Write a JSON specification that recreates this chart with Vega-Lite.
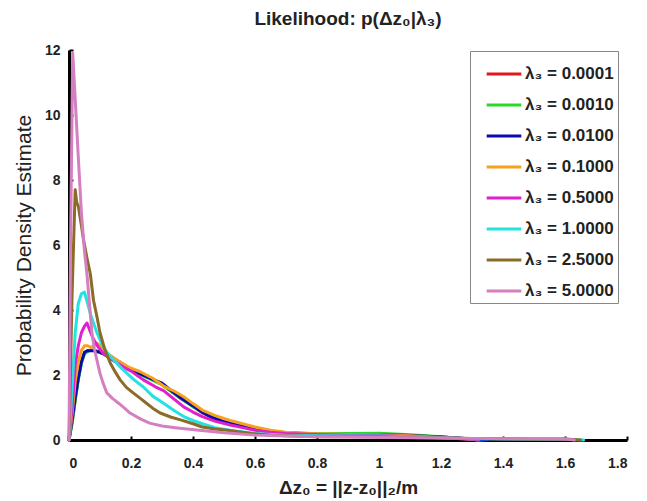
{
  "$schema": "https://vega.github.io/schema/vega-lite/v6.json",
  "width": 558,
  "height": 390,
  "autosize": {"type": "none"},
  "padding": {"left": 69, "top": 50, "right": 20, "bottom": 61},
  "background": "white",
  "title": {"text": "Likelihood: p(Δz₀|λ₃)", "font": "Liberation Sans", "fontSize": 19, "fontWeight": "bold", "color": "#222", "offset": 14, "anchor": "middle"},
  "config": {
    "view": {"stroke": null},
    "axis": {"grid": false, "domainColor": "black", "tickColor": "black", "labelFont": "Liberation Sans", "labelFontWeight": "bold", "labelFontSize": 14, "labelColor": "#222", "titleFont": "Liberation Sans", "titleColor": "#222"}
  },
  "data": {"values": [
    {"lam":"0.0001","x":0,"y":0},{"lam":"0.0001","x":0.01,"y":0.55},{"lam":"0.0001","x":0.02,"y":1.25},{"lam":"0.0001","x":0.03,"y":1.9},{"lam":"0.0001","x":0.04,"y":2.4},{"lam":"0.0001","x":0.05,"y":2.68},{"lam":"0.0001","x":0.06,"y":2.75},{"lam":"0.0001","x":0.08,"y":2.76},{"lam":"0.0001","x":0.1,"y":2.7},{"lam":"0.0001","x":0.12,"y":2.6},{"lam":"0.0001","x":0.14,"y":2.5},{"lam":"0.0001","x":0.16,"y":2.4},{"lam":"0.0001","x":0.18,"y":2.28},{"lam":"0.0001","x":0.2,"y":2.16},{"lam":"0.0001","x":0.22,"y":2.06},{"lam":"0.0001","x":0.25,"y":1.94},{"lam":"0.0001","x":0.28,"y":1.82},{"lam":"0.0001","x":0.3,"y":1.72},{"lam":"0.0001","x":0.33,"y":1.5},{"lam":"0.0001","x":0.36,"y":1.28},{"lam":"0.0001","x":0.4,"y":1.04},{"lam":"0.0001","x":0.43,"y":0.84},{"lam":"0.0001","x":0.46,"y":0.7},{"lam":"0.0001","x":0.5,"y":0.56},{"lam":"0.0001","x":0.55,"y":0.44},{"lam":"0.0001","x":0.6,"y":0.34},{"lam":"0.0001","x":0.65,"y":0.27},{"lam":"0.0001","x":0.7,"y":0.22},{"lam":"0.0001","x":0.8,"y":0.18},{"lam":"0.0001","x":0.9,"y":0.18},{"lam":"0.0001","x":1.0,"y":0.18},{"lam":"0.0001","x":1.1,"y":0.14},{"lam":"0.0001","x":1.2,"y":0.09},{"lam":"0.0001","x":1.3,"y":0.03},{"lam":"0.0001","x":1.34,"y":0},
    {"lam":"0.0010","x":0,"y":0},{"lam":"0.0010","x":0.01,"y":0.5},{"lam":"0.0010","x":0.02,"y":1.2},{"lam":"0.0010","x":0.03,"y":1.85},{"lam":"0.0010","x":0.04,"y":2.35},{"lam":"0.0010","x":0.05,"y":2.65},{"lam":"0.0010","x":0.07,"y":2.78},{"lam":"0.0010","x":0.09,"y":2.72},{"lam":"0.0010","x":0.11,"y":2.65},{"lam":"0.0010","x":0.13,"y":2.55},{"lam":"0.0010","x":0.16,"y":2.4},{"lam":"0.0010","x":0.2,"y":2.15},{"lam":"0.0010","x":0.25,"y":1.93},{"lam":"0.0010","x":0.3,"y":1.7},{"lam":"0.0010","x":0.35,"y":1.35},{"lam":"0.0010","x":0.4,"y":1.02},{"lam":"0.0010","x":0.45,"y":0.75},{"lam":"0.0010","x":0.5,"y":0.55},{"lam":"0.0010","x":0.6,"y":0.33},{"lam":"0.0010","x":0.7,"y":0.22},{"lam":"0.0010","x":0.8,"y":0.19},{"lam":"0.0010","x":0.9,"y":0.2},{"lam":"0.0010","x":1.0,"y":0.21},{"lam":"0.0010","x":1.1,"y":0.16},{"lam":"0.0010","x":1.2,"y":0.1},{"lam":"0.0010","x":1.3,"y":0.03},{"lam":"0.0010","x":1.33,"y":0},
    {"lam":"0.0100","x":0,"y":0},{"lam":"0.0100","x":0.01,"y":0.6},{"lam":"0.0100","x":0.02,"y":1.3},{"lam":"0.0100","x":0.03,"y":1.9},{"lam":"0.0100","x":0.04,"y":2.4},{"lam":"0.0100","x":0.05,"y":2.7},{"lam":"0.0100","x":0.06,"y":2.75},{"lam":"0.0100","x":0.08,"y":2.75},{"lam":"0.0100","x":0.1,"y":2.7},{"lam":"0.0100","x":0.12,"y":2.62},{"lam":"0.0100","x":0.14,"y":2.52},{"lam":"0.0100","x":0.16,"y":2.42},{"lam":"0.0100","x":0.18,"y":2.3},{"lam":"0.0100","x":0.2,"y":2.18},{"lam":"0.0100","x":0.22,"y":2.08},{"lam":"0.0100","x":0.25,"y":1.95},{"lam":"0.0100","x":0.28,"y":1.83},{"lam":"0.0100","x":0.3,"y":1.75},{"lam":"0.0100","x":0.33,"y":1.52},{"lam":"0.0100","x":0.36,"y":1.3},{"lam":"0.0100","x":0.4,"y":1.05},{"lam":"0.0100","x":0.43,"y":0.85},{"lam":"0.0100","x":0.46,"y":0.7},{"lam":"0.0100","x":0.5,"y":0.56},{"lam":"0.0100","x":0.55,"y":0.45},{"lam":"0.0100","x":0.6,"y":0.35},{"lam":"0.0100","x":0.65,"y":0.27},{"lam":"0.0100","x":0.7,"y":0.22},{"lam":"0.0100","x":0.8,"y":0.18},{"lam":"0.0100","x":0.9,"y":0.17},{"lam":"0.0100","x":1.0,"y":0.17},{"lam":"0.0100","x":1.1,"y":0.14},{"lam":"0.0100","x":1.2,"y":0.09},{"lam":"0.0100","x":1.3,"y":0.03},{"lam":"0.0100","x":1.35,"y":0},
    {"lam":"0.1000","x":0,"y":0},{"lam":"0.1000","x":0.01,"y":0.8},{"lam":"0.1000","x":0.02,"y":1.8},{"lam":"0.1000","x":0.03,"y":2.4},{"lam":"0.1000","x":0.04,"y":2.75},{"lam":"0.1000","x":0.05,"y":2.9},{"lam":"0.1000","x":0.06,"y":2.9},{"lam":"0.1000","x":0.07,"y":2.85},{"lam":"0.1000","x":0.08,"y":2.9},{"lam":"0.1000","x":0.09,"y":2.98},{"lam":"0.1000","x":0.1,"y":2.9},{"lam":"0.1000","x":0.11,"y":2.77},{"lam":"0.1000","x":0.13,"y":2.62},{"lam":"0.1000","x":0.155,"y":2.46},{"lam":"0.1000","x":0.19,"y":2.25},{"lam":"0.1000","x":0.23,"y":2.1},{"lam":"0.1000","x":0.27,"y":1.9},{"lam":"0.1000","x":0.305,"y":1.66},{"lam":"0.1000","x":0.34,"y":1.5},{"lam":"0.1000","x":0.37,"y":1.33},{"lam":"0.1000","x":0.4,"y":1.12},{"lam":"0.1000","x":0.43,"y":0.92},{"lam":"0.1000","x":0.47,"y":0.76},{"lam":"0.1000","x":0.52,"y":0.6},{"lam":"0.1000","x":0.56,"y":0.5},{"lam":"0.1000","x":0.6,"y":0.4},{"lam":"0.1000","x":0.65,"y":0.3},{"lam":"0.1000","x":0.7,"y":0.24},{"lam":"0.1000","x":0.8,"y":0.19},{"lam":"0.1000","x":0.9,"y":0.17},{"lam":"0.1000","x":1.0,"y":0.16},{"lam":"0.1000","x":1.1,"y":0.13},{"lam":"0.1000","x":1.2,"y":0.08},{"lam":"0.1000","x":1.3,"y":0.02},{"lam":"0.1000","x":1.32,"y":0},
    {"lam":"0.5000","x":0,"y":0},{"lam":"0.5000","x":0.01,"y":1.0},{"lam":"0.5000","x":0.02,"y":2.3},{"lam":"0.5000","x":0.03,"y":2.9},{"lam":"0.5000","x":0.04,"y":3.3},{"lam":"0.5000","x":0.05,"y":3.5},{"lam":"0.5000","x":0.058,"y":3.6},{"lam":"0.5000","x":0.07,"y":3.3},{"lam":"0.5000","x":0.08,"y":3.08},{"lam":"0.5000","x":0.095,"y":2.85},{"lam":"0.5000","x":0.11,"y":2.67},{"lam":"0.5000","x":0.13,"y":2.52},{"lam":"0.5000","x":0.155,"y":2.37},{"lam":"0.5000","x":0.18,"y":2.22},{"lam":"0.5000","x":0.2,"y":2.12},{"lam":"0.5000","x":0.24,"y":1.85},{"lam":"0.5000","x":0.28,"y":1.63},{"lam":"0.5000","x":0.305,"y":1.52},{"lam":"0.5000","x":0.34,"y":1.25},{"lam":"0.5000","x":0.37,"y":1.02},{"lam":"0.5000","x":0.4,"y":0.86},{"lam":"0.5000","x":0.43,"y":0.72},{"lam":"0.5000","x":0.47,"y":0.58},{"lam":"0.5000","x":0.52,"y":0.46},{"lam":"0.5000","x":0.56,"y":0.38},{"lam":"0.5000","x":0.6,"y":0.3},{"lam":"0.5000","x":0.65,"y":0.24},{"lam":"0.5000","x":0.7,"y":0.2},{"lam":"0.5000","x":0.8,"y":0.17},{"lam":"0.5000","x":0.9,"y":0.15},{"lam":"0.5000","x":1.0,"y":0.14},{"lam":"0.5000","x":1.1,"y":0.11},{"lam":"0.5000","x":1.2,"y":0.07},{"lam":"0.5000","x":1.3,"y":0.02},{"lam":"0.5000","x":1.32,"y":0},
    {"lam":"1.0000","x":0,"y":0},{"lam":"1.0000","x":0.01,"y":1.6},{"lam":"1.0000","x":0.02,"y":3.3},{"lam":"1.0000","x":0.03,"y":4.2},{"lam":"1.0000","x":0.04,"y":4.5},{"lam":"1.0000","x":0.05,"y":4.55},{"lam":"1.0000","x":0.06,"y":4.2},{"lam":"1.0000","x":0.07,"y":3.85},{"lam":"1.0000","x":0.09,"y":3.3},{"lam":"1.0000","x":0.11,"y":2.87},{"lam":"1.0000","x":0.13,"y":2.6},{"lam":"1.0000","x":0.145,"y":2.46},{"lam":"1.0000","x":0.165,"y":2.25},{"lam":"1.0000","x":0.19,"y":2.03},{"lam":"1.0000","x":0.21,"y":1.85},{"lam":"1.0000","x":0.24,"y":1.63},{"lam":"1.0000","x":0.27,"y":1.35},{"lam":"1.0000","x":0.305,"y":1.13},{"lam":"1.0000","x":0.34,"y":0.9},{"lam":"1.0000","x":0.37,"y":0.72},{"lam":"1.0000","x":0.4,"y":0.6},{"lam":"1.0000","x":0.43,"y":0.5},{"lam":"1.0000","x":0.47,"y":0.38},{"lam":"1.0000","x":0.52,"y":0.3},{"lam":"1.0000","x":0.6,"y":0.2},{"lam":"1.0000","x":0.7,"y":0.15},{"lam":"1.0000","x":0.8,"y":0.13},{"lam":"1.0000","x":0.9,"y":0.12},{"lam":"1.0000","x":1.0,"y":0.12},{"lam":"1.0000","x":1.1,"y":0.1},{"lam":"1.0000","x":1.2,"y":0.07},{"lam":"1.0000","x":1.3,"y":0.04},{"lam":"1.0000","x":1.4,"y":0.03},{"lam":"1.0000","x":1.5,"y":0.02},{"lam":"1.0000","x":1.6,"y":0.02},{"lam":"1.0000","x":1.66,"y":0},
    {"lam":"2.5000","x":0,"y":0},{"lam":"2.5000","x":0.01,"y":4.5},{"lam":"2.5000","x":0.02,"y":7.7},{"lam":"2.5000","x":0.025,"y":7.3},{"lam":"2.5000","x":0.03,"y":7.2},{"lam":"2.5000","x":0.04,"y":6.6},{"lam":"2.5000","x":0.047,"y":6.15},{"lam":"2.5000","x":0.058,"y":5.6},{"lam":"2.5000","x":0.069,"y":5.1},{"lam":"2.5000","x":0.079,"y":4.3},{"lam":"2.5000","x":0.09,"y":3.8},{"lam":"2.5000","x":0.1,"y":3.3},{"lam":"2.5000","x":0.115,"y":2.8},{"lam":"2.5000","x":0.133,"y":2.37},{"lam":"2.5000","x":0.15,"y":2.08},{"lam":"2.5000","x":0.165,"y":1.85},{"lam":"2.5000","x":0.185,"y":1.62},{"lam":"2.5000","x":0.207,"y":1.45},{"lam":"2.5000","x":0.23,"y":1.28},{"lam":"2.5000","x":0.25,"y":1.13},{"lam":"2.5000","x":0.27,"y":0.98},{"lam":"2.5000","x":0.294,"y":0.83},{"lam":"2.5000","x":0.33,"y":0.7},{"lam":"2.5000","x":0.36,"y":0.62},{"lam":"2.5000","x":0.4,"y":0.5},{"lam":"2.5000","x":0.43,"y":0.4},{"lam":"2.5000","x":0.47,"y":0.34},{"lam":"2.5000","x":0.51,"y":0.3},{"lam":"2.5000","x":0.55,"y":0.25},{"lam":"2.5000","x":0.59,"y":0.2},{"lam":"2.5000","x":0.65,"y":0.15},{"lam":"2.5000","x":0.7,"y":0.13},{"lam":"2.5000","x":0.8,"y":0.1},{"lam":"2.5000","x":0.9,"y":0.1},{"lam":"2.5000","x":1.0,"y":0.1},{"lam":"2.5000","x":1.1,"y":0.08},{"lam":"2.5000","x":1.2,"y":0.06},{"lam":"2.5000","x":1.3,"y":0.05},{"lam":"2.5000","x":1.4,"y":0.04},{"lam":"2.5000","x":1.5,"y":0.03},{"lam":"2.5000","x":1.6,"y":0.03},{"lam":"2.5000","x":1.65,"y":0},
    {"lam":"5.0000","x":0,"y":0},{"lam":"5.0000","x":0.005,"y":6},{"lam":"5.0000","x":0.012,"y":11.9},{"lam":"5.0000","x":0.02,"y":10.5},{"lam":"5.0000","x":0.03,"y":8.7},{"lam":"5.0000","x":0.04,"y":7.0},{"lam":"5.0000","x":0.05,"y":5.8},{"lam":"5.0000","x":0.058,"y":5.1},{"lam":"5.0000","x":0.066,"y":4.2},{"lam":"5.0000","x":0.074,"y":3.3},{"lam":"5.0000","x":0.082,"y":2.8},{"lam":"5.0000","x":0.09,"y":2.46},{"lam":"5.0000","x":0.1,"y":2.05},{"lam":"5.0000","x":0.11,"y":1.75},{"lam":"5.0000","x":0.122,"y":1.45},{"lam":"5.0000","x":0.14,"y":1.28},{"lam":"5.0000","x":0.159,"y":1.14},{"lam":"5.0000","x":0.18,"y":0.97},{"lam":"5.0000","x":0.197,"y":0.83},{"lam":"5.0000","x":0.23,"y":0.65},{"lam":"5.0000","x":0.26,"y":0.52},{"lam":"5.0000","x":0.3,"y":0.43},{"lam":"5.0000","x":0.35,"y":0.37},{"lam":"5.0000","x":0.42,"y":0.3},{"lam":"5.0000","x":0.5,"y":0.22},{"lam":"5.0000","x":0.6,"y":0.15},{"lam":"5.0000","x":0.7,"y":0.12},{"lam":"5.0000","x":0.8,"y":0.1},{"lam":"5.0000","x":0.9,"y":0.09},{"lam":"5.0000","x":1.0,"y":0.08},{"lam":"5.0000","x":1.1,"y":0.07},{"lam":"5.0000","x":1.2,"y":0.06},{"lam":"5.0000","x":1.3,"y":0.05},{"lam":"5.0000","x":1.4,"y":0.04},{"lam":"5.0000","x":1.5,"y":0.04},{"lam":"5.0000","x":1.6,"y":0.03},{"lam":"5.0000","x":1.63,"y":0}
  ]},
  "mark": {"type": "line", "strokeWidth": 3, "strokeJoin": "round", "strokeCap": "round"},
  "encoding": {
    "x": {"field": "x", "type": "quantitative", "scale": {"domain": [0, 1.8], "nice": false, "zero": false},
      "axis": {"values": [0, 0.2, 0.4, 0.6, 0.8, 1, 1.2, 1.4, 1.6, 1.8], "format": "~g", "tickSize": -4, "tickWidth": 2, "domainWidth": 3, "labelPadding": 20, "title": "Δz₀ = ||z-z₀||₂/m", "titleFontSize": 19, "titleFontWeight": "bold", "titlePadding": 8}},
    "y": {"field": "y", "type": "quantitative", "scale": {"domain": [0, 12], "nice": false},
      "axis": {"values": [0, 2, 4, 6, 8, 10, 12], "tickSize": -4, "tickWidth": 2, "domainWidth": 3, "labelPadding": 13, "title": "Probability Density Estimate", "titleFontSize": 21, "titleFontWeight": "normal", "titlePadding": 10}},
    "color": {"field": "lam", "type": "nominal",
      "scale": {"domain": ["0.0001", "0.0010", "0.0100", "0.1000", "0.5000", "1.0000", "2.5000", "5.0000"],
                "range": ["#e3141c", "#2ad82a", "#0a0ab0", "#f6a21c", "#e21fcc", "#22e2e2", "#8a6b28", "#d47fbf"]},
      "legend": {"orient": "none", "legendX": 401, "legendY": 1, "title": null, "symbolType": "stroke", "symbolStrokeWidth": 3, "symbolSize": 1200, "symbolOffset": 11, "rowPadding": 4, "padding": 4, "labelOffset": 2, "strokeColor": "#888", "fillColor": "white", "labelFont": "Liberation Sans", "labelFontWeight": "bold", "labelFontSize": 17, "labelColor": "#222", "labelExpr": "'λ₃ = ' + datum.label + '\u2003'"}}
  }
}
